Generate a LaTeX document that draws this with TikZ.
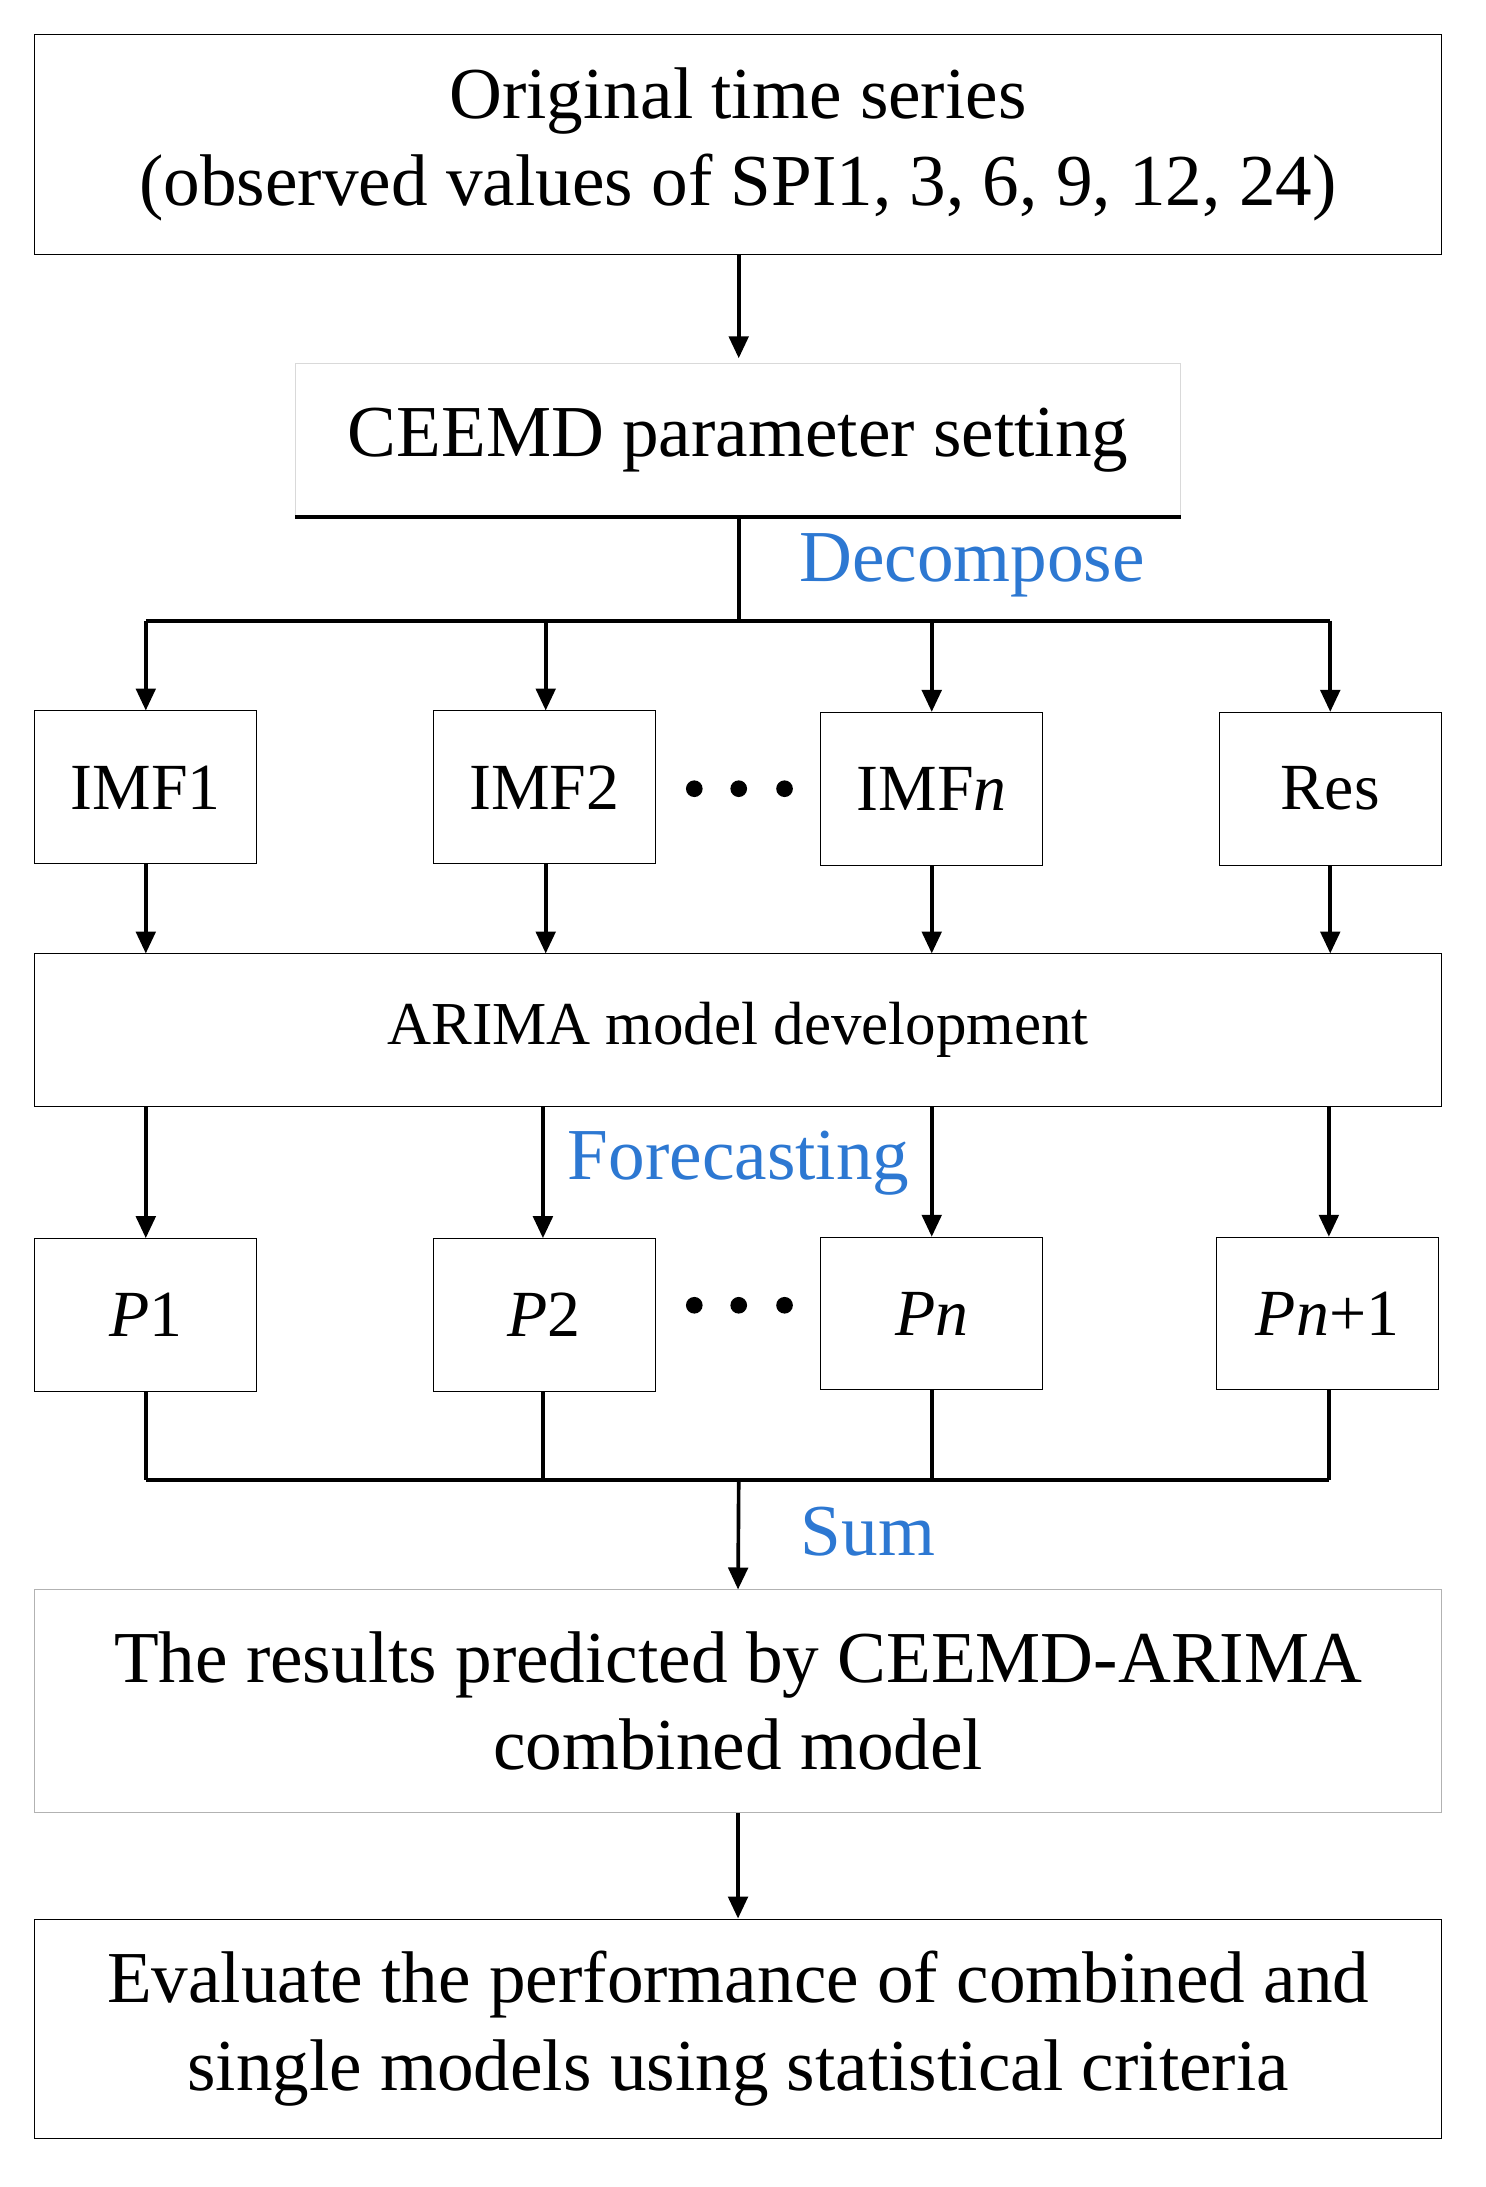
\documentclass[tikz,border=0pt]{standalone}
\usepackage{fontspec}
\setmainfont{Liberation Serif}
\usetikzlibrary{arrows.meta}
\definecolor{lblue}{RGB}{45,120,210}
\begin{document}
\begin{tikzpicture}[x=0.02cm,y=-0.02cm,
  box/.style={draw,inner sep=0pt,align=center,font=\fontsize{30}{36}\selectfont},
  sbox/.style={draw,inner sep=0pt,minimum width=3.2cm,minimum height=2.2cm,font=\fontsize{27}{30}\selectfont},
  arr/.style={-{Triangle[length=9pt,width=8pt]},line width=1.5pt},
  ln/.style={line width=1.5pt},
  lab/.style={text=lblue,font=\fontsize{30}{32}\selectfont,inner sep=0pt}]
\useasboundingbox (0,0) rectangle (1070,1575);
\node[box,minimum width=20.26cm,minimum height=3.16cm] (top) at (531.5,104) {Original time series\\(observed values of SPI1, 3, 6, 9, 12, 24)};
\node[draw=black!15,inner sep=0pt,minimum width=12.74cm,minimum height=2.2cm,font=\fontsize{30}{32}\selectfont] (ceemd) at (531.5,317) {CEEMD parameter setting};
\draw[ln] (ceemd.south west) -- (ceemd.south east);
\draw[arr] (532,183) -- (532,258);
\coordinate (d) at (532,447);
\draw[ln] (532,372) -- (d);
\draw[ln] (105,447) -- (958,447);
\node[lab] (dec) at (700,407) {Decompose};
\node[sbox] (i1) at (105,567) {IMF1};
\node[sbox] (i2) at (392,567) {IMF2};
\node[sbox] (in) at (671,568) {IMF\textit{n}};
\node[sbox] (ir) at (958,568) {Res};
\foreach \x in {500,532,565} \fill (\x,568) circle (6);
\foreach \n/\x in {i1/105,i2/393,in/671,ir/958} \draw[arr] (\x,447) -- (\x,0 |- \n.north);
\node[box,minimum width=20.26cm,minimum height=2.2cm,font=\fontsize{25}{28}\selectfont] (ar) at (531.5,742) {ARIMA model development};
\foreach \n/\x in {i1/105,i2/393,in/671,ir/958} \draw[arr] (\x,0 |- \n.south) -- (\x,0 |- ar.north);
\node[lab] (fc) at (532,838) {Forecasting};
\node[sbox] (p1) at (105,947) {\textit{P}1};
\node[sbox] (p2) at (392,947) {\textit{P}2};
\node[sbox] (pn) at (671,946) {\textit{Pn}};
\node[sbox] (pn1) at (956,946) {\textit{Pn}+1};
\foreach \x in {500,532,565} \fill (\x,940) circle (6);
\foreach \n/\x in {p1/105,p2/391,pn/671,pn1/957} \draw[arr] (\x,0 |- ar.south) -- (\x,0 |- \n.north);
\foreach \n/\x in {p1/105,p2/391,pn/671,pn1/957} \draw[ln] (\x,0 |- \n.south) -- (\x,1066);
\draw[ln] (105,1066) -- (957,1066);
\node[lab] (sum) at (625,1103) {Sum};
\node[draw=black!30,inner sep=0pt,align=center,minimum width=20.26cm,minimum height=3.2cm,font=\fontsize{30}{36}\selectfont] (res) at (531.5,1225) {The results predicted by CEEMD-ARIMA\\combined model};
\draw[arr] (532,1066) -- (res.north);
\node[box,minimum width=20.26cm,minimum height=3.16cm] (ev) at (531.5,1461) {Evaluate the performance of combined and\\single models using statistical criteria};
\draw[arr] (res.south) -- (ev.north);
\end{tikzpicture}
\end{document}
